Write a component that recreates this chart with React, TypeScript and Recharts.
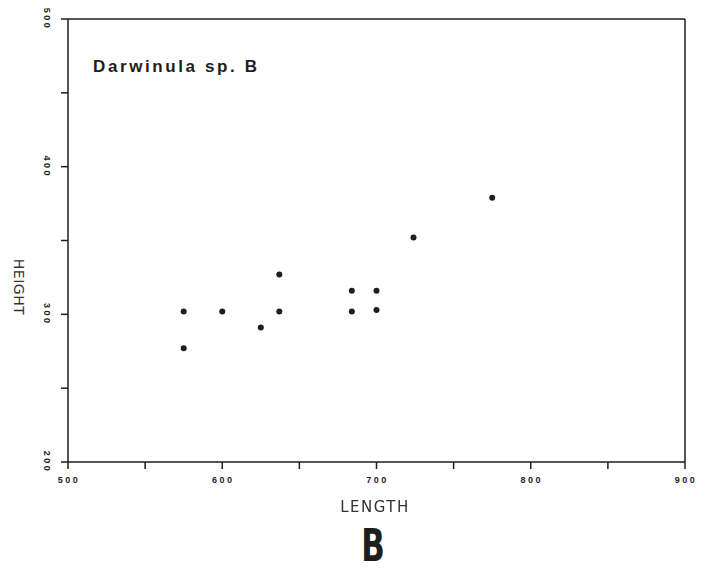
import { ScatterChart, Scatter, XAxis, YAxis } from "recharts";

// shell length vs height (microns)
const lengths = [575, 575, 600, 625, 637, 637, 684, 684, 700, 700, 724, 775];
const heights = [302, 277, 302, 291, 327, 302, 316, 302, 316, 303, 352, 379];

const xTicks = [500, 550, 600, 650, 700, 750, 800, 850, 900];
const yTicks = [200, 250, 300, 350, 400, 450, 500];

const points = lengths.map((l, i) => ({ length: l, height: heights[i] }));

const INK = "#1e1e1e";
const tickFont = "'Liberation Sans', Arial, sans-serif";

const BottomTick = (props: any) => {
  const { x, y, payload } = props;
  if (payload.value % 100 !== 0) return <g />;
  return (
    <text x={x + 1} y={y + 12} textAnchor="middle" fontSize={9} fontWeight="bold" letterSpacing={2.5} fill={INK} fontFamily={tickFont}>
      {payload.value}
    </text>
  );
};

const LeftTick = (props: any) => {
  const { x, y, payload } = props;
  if (payload.value % 100 !== 0) return <g />;
  const cx = x - 12;
  return (
    <text x={cx} y={y} textAnchor="middle" dominantBaseline="central" fontSize={9} fontWeight="bold" letterSpacing={2.5} fill={INK} fontFamily={tickFont} transform={`rotate(90, ${cx}, ${y})`}>
      {payload.value}
    </text>
  );
};

const NoLabel = () => <g />;

const Dot = (props: any) => <circle cx={props.cx} cy={props.cy} r={3} fill={INK} />;

export default function App() {
  return (
    <div style={{ position: "fixed", left: 0, top: 0, width: 710, height: 571, background: "#fff" }}>
      <ScatterChart width={710} height={571} margin={{ top: 9, right: 15, bottom: 79, left: 28 }}>
        <XAxis
          type="number"
          dataKey="length"
          domain={[500, 900]}
          ticks={xTicks}
          height={30}
          stroke={INK}
          strokeWidth={1.5}
          tickSize={7}
          tick={BottomTick}
          interval={0}
        />
        <XAxis
          type="number"
          xAxisId="top"
          orientation="top"
          domain={[500, 900]}
          ticks={xTicks}
          height={10}
          stroke={INK}
          strokeWidth={1.5}
          tickSize={7}
          tick={NoLabel}
          interval={0}
        />
        <YAxis
          type="number"
          dataKey="height"
          domain={[200, 500]}
          ticks={yTicks}
          width={40}
          stroke={INK}
          strokeWidth={1.5}
          tickSize={7}
          tick={LeftTick}
          interval={0}
        />
        <YAxis
          type="number"
          yAxisId="right"
          orientation="right"
          domain={[200, 500]}
          ticks={yTicks}
          width={10}
          stroke={INK}
          strokeWidth={1.5}
          tickSize={7}
          tick={NoLabel}
          interval={0}
        />
        <Scatter data={points} shape={Dot} isAnimationActive={false} />
      </ScatterChart>

      <div style={{ position: "absolute", left: 93, top: 57, fontFamily: tickFont, fontWeight: "bold", fontSize: 17, letterSpacing: 2.6, color: INK, whiteSpace: "nowrap" }}>
        Darwinula sp. B
      </div>
      <div style={{ position: "absolute", left: 0, width: 750, top: 498, textAlign: "center", fontFamily: "'DejaVu Sans', sans-serif", fontSize: 15, letterSpacing: 1.5, color: "#333" }}>
        LENGTH
      </div>
      <div
        style={{
          position: "absolute",
          left: 19,
          top: 287,
          transform: "translate(-50%, -50%) rotate(90deg)",
          fontFamily: "'DejaVu Sans', sans-serif",
          fontSize: 14,
          letterSpacing: 0.5,
          color: "#333",
          whiteSpace: "nowrap",
        }}
      >
        HEIGHT
      </div>
      <div
        style={{
          position: "absolute",
          left: 373,
          top: 524,
          transform: "translateX(-50%) scaleX(0.78)",
          fontFamily: "'Liberation Sans Narrow', 'DejaVu Sans Condensed', sans-serif",
          fontWeight: "bold",
          fontSize: 44,
          lineHeight: "44px",
          color: INK,
        }}
      >
        B
      </div>
    </div>
  );
}
